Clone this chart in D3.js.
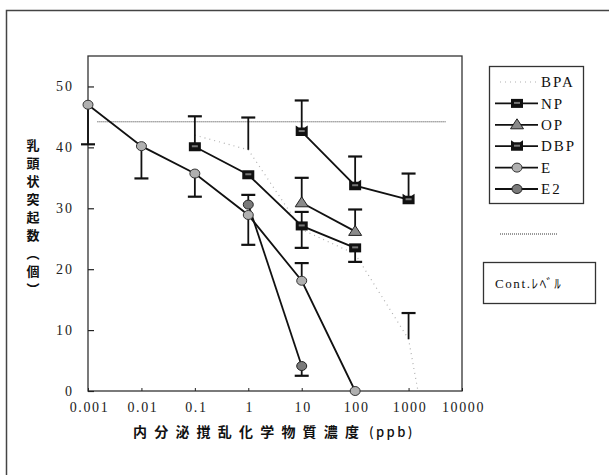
<!DOCTYPE html>
<html>
<head>
<meta charset="utf-8">
<script src="https://cdn.jsdelivr.net/npm/d3@7"></script>
<style>
  body { margin: 0; background: #fff; }
  svg { display: block; }
</style>
</head>
<body>
<div id="chart"></div>
<script>
// ticks
const xTickVals = [0.001, 0.01, 0.1, 1, 10, 100, 1000, 10000]
const xTickLabels = ["0.001", "0.01", "0.1", "1", "10", "100", "1000", "10000"]
const yTickVals = [0, 10, 20, 30, 40, 50]

// series (x = ppb, y = count, lo/hi = error bar ends)
const bpaX = [0.1, 1, 10, 100, 1000, 1500]
const bpaY = [42, 39.6, 26.5, 22.5, 8.5, 0]
const bpaLo = [42, 39.6, 26.5, 22.5, 8.5, 0]
const bpaHi = [42, 44.9, 26.5, 22.5, 12.8, 0]

const npX = [0.1, 1, 10, 100]
const npY = [40.1, 35.5, 27.1, 23.5]
const npLo = [40.1, 35.5, 23.5, 21.2]
const npHi = [45.1, 35.5, 29.4, 23.5]

const opX = [10, 100]
const opY = [30.9, 26.2]
const opLo = [30.9, 26.2]
const opHi = [35.0, 29.8]

const dbpX = [10, 100, 1000]
const dbpY = [42.6, 33.7, 31.4]
const dbpLo = [42.6, 33.7, 31.4]
const dbpHi = [47.7, 38.5, 35.7]

const eX = [0.001, 0.01, 0.1, 1, 10, 100]
const eY = [47, 40.2, 35.7, 28.9, 18.1, 0]
const eLo = [40.5, 34.9, 31.9, 24.0, 18.1, 0]
const eHi = [47, 40.2, 35.7, 28.9, 21.0, 0]

const e2X = [1, 10]
const e2Y = [30.6, 4.1]
const e2Lo = [30.6, 2.5]
const e2Hi = [32.2, 4.1]

// control level
const contX = [0.0015, 5000]
const contY = [44.2, 44.2]

const width = 609, height = 475
const plot = { left: 88, right: 462, top: 56, bottom: 391 }
const serif = '"Liberation Serif", "DejaVu Serif", serif'
const cjk = '"Noto Sans CJK JP", "Noto Sans", sans-serif'

const svg = d3.select('#chart').append('svg')
    .attr('width', width)
    .attr('height', height)

const x = d3.scaleLog()
    .domain([0.001, 10000])
    .range([plot.left, plot.right])

const y = d3.scaleLinear()
    .domain([0, 55])
    .range([plot.bottom, plot.top])

// outer frame
svg.append('rect')
    .attr('x', 6.5).attr('y', 10.5)
    .attr('width', width + 20).attr('height', height + 20)
    .attr('fill', 'none').attr('stroke', '#444').attr('stroke-width', 1.5)

// plot frame
svg.append('rect')
    .attr('x', plot.left).attr('y', plot.top)
    .attr('width', plot.right - plot.left).attr('height', plot.bottom - plot.top)
    .attr('fill', 'none').attr('stroke', '#333').attr('stroke-width', 1.3)

// axes
const yAxis = svg.append('g')
    .attr('transform', `translate(${plot.left},0)`)
    .call(d3.axisLeft(y).tickValues(yTickVals).tickSize(-6).tickPadding(14))
yAxis.select('.domain').remove()
yAxis.selectAll('line').attr('stroke', '#222').attr('stroke-width', 1.2)
yAxis.selectAll('text')
    .attr('font-family', serif).attr('font-size', 14)
    .attr('letter-spacing', 2).attr('fill', '#222')

const xAxis = svg.append('g')
    .attr('transform', `translate(0,${plot.bottom})`)
    .call(d3.axisBottom(x).tickValues(xTickVals)
        .tickFormat((d, i) => xTickLabels[i]).tickSize(-3).tickPadding(11))
xAxis.select('.domain').remove()
xAxis.selectAll('line').attr('stroke', '#222')
xAxis.selectAll('text')
    .attr('font-family', serif).attr('font-size', 14)
    .attr('letter-spacing', 1.6).attr('dx', 1).attr('fill', '#222')

// axis titles
const yTitle = Array.from('乳頭状突起数︵個︶')
svg.append('g').selectAll('text')
    .data(yTitle)
    .join('text')
    .attr('x', 33)
    .attr('y', (d, i) => 145 + i * 18)
    .attr('dy', '0.35em')
    .attr('text-anchor', 'middle')
    .attr('font-family', cjk).attr('font-size', 13).attr('font-weight', 'bold')
    .attr('fill', '#111')
    .text(d => d)

svg.append('text')
    .attr('x', 133).attr('y', 437)
    .attr('font-family', cjk).attr('font-size', 14).attr('font-weight', 'bold')
    .attr('letter-spacing', 7.2).attr('fill', '#111')
    .text('内分泌撹乱化学物質濃度')
svg.append('text')
    .attr('x', 369).attr('y', 437)
    .attr('font-family', cjk).attr('font-size', 13).attr('font-weight', 500)
    .attr('letter-spacing', 2.4).attr('fill', '#111')
    .text('(ppb)')

// helpers
function zip(xs, ys, lo, hi) {
    return xs.map((d, i) => ({ x: d, y: ys[i], lo: lo ? lo[i] : ys[i], hi: hi ? hi[i] : ys[i] }))
}
const line = d3.line().x(d => x(d.x)).y(d => y(d.y))

const bpa = zip(bpaX, bpaY, bpaLo, bpaHi)
const np = zip(npX, npY, npLo, npHi)
const op = zip(opX, opY, opLo, opHi)
const dbp = zip(dbpX, dbpY, dbpLo, dbpHi)
const e = zip(eX, eY, eLo, eHi)
const e2 = zip(e2X, e2Y, e2Lo, e2Hi)
const cont = zip(contX, contY)

// control line
svg.append('path')
    .attr('d', line(cont))
    .attr('fill', 'none').attr('stroke', '#333')
    .attr('stroke-width', 1).attr('stroke-dasharray', '1,1')

// BPA dotted
svg.append('path')
    .attr('d', line(bpa))
    .attr('fill', 'none').attr('stroke', '#b0b0b0')
    .attr('stroke-width', 1.2).attr('stroke-dasharray', '1,4')

// error bars
const capW = 7
function errorBars(data) {
    const g = svg.append('g').attr('stroke', '#111')
    data.filter(d => d.lo !== d.hi).forEach(d => {
        g.append('line')
            .attr('x1', x(d.x)).attr('x2', x(d.x))
            .attr('y1', y(d.lo)).attr('y2', y(d.hi))
            .attr('stroke-width', 1.8)
        if (d.lo < d.y) {
            g.append('line')
                .attr('x1', x(d.x) - capW).attr('x2', x(d.x) + capW)
                .attr('y1', y(d.lo)).attr('y2', y(d.lo)).attr('stroke-width', 2.2)
        }
        if (d.hi > d.y) {
            g.append('line')
                .attr('x1', x(d.x) - capW).attr('x2', x(d.x) + capW)
                .attr('y1', y(d.hi)).attr('y2', y(d.hi)).attr('stroke-width', 2.2)
        }
    })
}
;[bpa, np, op, dbp, e, e2].forEach(errorBars)

// series lines
;[np, op, dbp, e, e2].forEach(s => {
    svg.append('path')
        .attr('d', line(s))
        .attr('fill', 'none').attr('stroke', '#111').attr('stroke-width', 1.8)
})

// markers
function square(g, cx, cy) {
    g.append('rect').attr('x', cx - 6).attr('y', cy - 4.5).attr('width', 12).attr('height', 9)
        .attr('fill', '#111')
    g.append('rect').attr('x', cx - 3).attr('y', cy - 1.5).attr('width', 6).attr('height', 2)
        .attr('fill', '#777')
}
function earSquare(g, cx, cy) {
    g.append('path')
        .attr('d', `M${cx - 6},${cy - 6} L${cx - 3},${cy - 4} L${cx + 3},${cy - 4} L${cx + 6},${cy - 6} L${cx + 6},${cy + 4.5} L${cx - 6},${cy + 4.5} Z`)
        .attr('fill', '#111')
    g.append('rect').attr('x', cx - 3).attr('y', cy - 1.5).attr('width', 6).attr('height', 2)
        .attr('fill', '#777')
}
function triangle(g, cx, cy) {
    g.append('path')
        .attr('d', `M${cx},${cy - 6} L${cx + 6.5},${cy + 4} L${cx - 6.5},${cy + 4} Z`)
        .attr('fill', '#8a8a8a').attr('stroke', '#222').attr('stroke-width', 1)
}
function circleLight(g, cx, cy) {
    g.append('ellipse').attr('cx', cx).attr('cy', cy).attr('rx', 5).attr('ry', 4.5)
        .attr('fill', '#b0b0b0').attr('stroke', '#333').attr('stroke-width', 1)
}
function circleDark(g, cx, cy) {
    g.append('ellipse').attr('cx', cx).attr('cy', cy).attr('rx', 5).attr('ry', 4.5)
        .attr('fill', '#7a7a7a').attr('stroke', '#222').attr('stroke-width', 1)
}

const markers = svg.append('g')
e.forEach(d => circleLight(markers, x(d.x), y(d.y)))
e2.forEach(d => circleDark(markers, x(d.x), y(d.y)))
op.forEach(d => triangle(markers, x(d.x), y(d.y)))
np.forEach(d => square(markers, x(d.x), y(d.y)))
dbp.forEach(d => earSquare(markers, x(d.x), y(d.y)))

// legend
const legendNames = ['BPA', 'NP', 'OP', 'DBP', 'E', 'E2']
const legendMarks = [null, square, triangle, earSquare, circleLight, circleDark]
const legend = svg.append('g')
legend.append('rect')
    .attr('x', 489.5).attr('y', 66.5).attr('width', 94).attr('height', 137)
    .attr('fill', '#fff').attr('stroke', '#333').attr('stroke-width', 1.3)
legendNames.forEach((name, i) => {
    const ly = 82 + i * 21.4
    if (i === 0) {
        legend.append('line').attr('x1', 500).attr('x2', 538).attr('y1', ly).attr('y2', ly)
            .attr('stroke', '#b0b0b0').attr('stroke-width', 1.2).attr('stroke-dasharray', '1,4')
    } else {
        legend.append('line').attr('x1', 495).attr('x2', 538).attr('y1', ly).attr('y2', ly)
            .attr('stroke', '#111').attr('stroke-width', 1.8)
        legendMarks[i](legend, 517, ly)
    }
    legend.append('text')
        .attr('x', 541).attr('y', ly).attr('dy', '0.35em')
        .attr('font-family', serif).attr('font-size', 15)
        .attr('letter-spacing', 2).attr('fill', '#111')
        .text(name)
})

// control legend
svg.append('line')
    .attr('x1', 500).attr('x2', 557).attr('y1', 234).attr('y2', 234)
    .attr('stroke', '#333').attr('stroke-width', 1).attr('stroke-dasharray', '1,1')
svg.append('rect')
    .attr('x', 483.5).attr('y', 262.5).attr('width', 112).attr('height', 41)
    .attr('fill', '#fff').attr('stroke', '#333').attr('stroke-width', 1.3)
svg.append('text')
    .attr('x', 495).attr('y', 283).attr('dy', '0.35em')
    .attr('font-family', `"Liberation Serif", "Noto Sans CJK JP", serif`)
    .attr('font-size', 13).attr('letter-spacing', 1.6).attr('fill', '#111')
    .text('Cont.ﾚﾍﾞﾙ')
</script>
</body>
</html>
